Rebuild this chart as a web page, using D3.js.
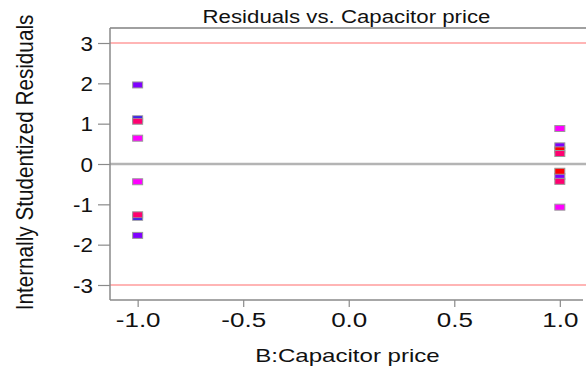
<!DOCTYPE html>
<html>
<head>
<meta charset="utf-8">
<script src="https://cdn.jsdelivr.net/npm/d3@7"></script>
<style>
  html, body { margin: 0; padding: 0; background: #fff; }
  svg { display: block; font-family: Arial, "Liberation Sans", sans-serif; }
</style>
</head>
<body>
<svg id="chart" width="587" height="372"></svg>
<script>
// Factor level (coded) for each run
const priceLevel = [-1, -1, -1, -1, -1, -1, -1, -1, 1, 1, 1, 1, 1, 1, 1, 1];
// Internally studentized residual for each run
const residuals = [1.96, 1.12, 1.06, 0.64, -0.44, -1.32, -1.26, -1.77,
                   0.88, 0.45, 0.35, 0.26, -0.31, -0.18, -0.43, -1.07];
// Response band of each run (used for point colour)
const responseBand = [1, 0, 3, 2, 2, 0, 3, 1, 2, 1, 4, 3, 1, 4, 3, 2];

const xTicks = [-1.0, -0.5, 0.0, 0.5, 1.0];
const yTicks = [3, 2, 1, 0, -1, -2, -3];
const limitLines = [3, -3];

const bandColour = d3.scaleOrdinal()
  .domain([0, 1, 2, 3, 4])
  .range(["#2200ff", "#8000ff", "#ff00ff", "#ff0070", "#ff0000"]);

const svg = d3.select("#chart");
const plotLeft = 110, plotRight = 586, plotTop = 28, plotBottom = 300;

const x = d3.scaleLinear().domain([-1.131, 1.124]).range([plotLeft, plotRight]);
const y = d3.scaleLinear().domain([-3.372, 3.372]).range([plotBottom, plotTop]);

// plain hyphen-minus for negative tick labels
const hyphen = f => d => f(d).replace("\u2212", "-");

// stretch a text element horizontally by a factor
function widen(sel, f) {
  sel.each(function () {
    const w = this.getComputedTextLength();
    d3.select(this).attr("textLength", w * f).attr("lengthAdjust", "spacingAndGlyphs");
  });
}

// reference lines
svg.selectAll("line.limit").data(limitLines).join("line")
  .attr("class", "limit")
  .attr("x1", plotLeft).attr("x2", plotRight)
  .attr("y1", d => y(d)).attr("y2", d => y(d))
  .attr("stroke", "#ff9c9c").attr("stroke-width", 1.5);

svg.append("line")
  .attr("x1", plotLeft).attr("x2", plotRight)
  .attr("y1", y(0)).attr("y2", y(0))
  .attr("stroke", "#b4b4b4").attr("stroke-width", 2.5);

// frame
svg.append("line").attr("x1", plotLeft).attr("x2", plotRight).attr("y1", plotTop).attr("y2", plotTop)
  .attr("stroke", "#a0a0a0").attr("stroke-width", 2);
svg.append("line").attr("x1", plotLeft).attr("x2", plotLeft).attr("y1", plotTop).attr("y2", plotBottom)
  .attr("stroke", "#8a8a8a").attr("stroke-width", 1.5);
svg.append("line").attr("x1", plotLeft).attr("x2", plotRight - 3).attr("y1", plotBottom).attr("y2", plotBottom)
  .attr("stroke", "#8a8a8a").attr("stroke-width", 1.5);

// axes
const xAxis = svg.append("g").attr("transform", `translate(0,${plotBottom})`)
  .call(d3.axisBottom(x).tickValues(xTicks).tickFormat(hyphen(d3.format(".1f"))).tickSize(7).tickPadding(6));
const yAxis = svg.append("g").attr("transform", `translate(${plotLeft},0)`)
  .call(d3.axisLeft(y).tickValues(yTicks).tickFormat(hyphen(d3.format("d"))).tickSize(12).tickPadding(5));

[xAxis, yAxis].forEach(g => {
  g.select(".domain").remove();
  g.selectAll(".tick line").attr("stroke", "#8a8a8a").attr("stroke-width", 1.2);
  g.selectAll(".tick text").attr("fill", "#111").attr("font-size", 20)
    .attr("font-family", "Arial, 'Liberation Sans', sans-serif");
});
xAxis.selectAll(".tick text").attr("dy", "0.71em").call(widen, 1.3);
yAxis.selectAll(".tick text").attr("dy", "0.36em").call(widen, 1.12);

// points
const pts = priceLevel.map((p, i) => ({ p, r: residuals[i], b: responseBand[i] }));
svg.selectAll("rect.pt").data(pts).join("rect")
  .attr("class", "pt")
  .attr("x", d => x(d.p) - 5).attr("y", d => y(d.r) - 3)
  .attr("width", 10).attr("height", 6)
  .attr("fill", d => bandColour(d.b))
  .attr("stroke", "#9a9a9a").attr("stroke-width", 1);

// titles
svg.append("text").attr("x", 346.5).attr("y", 23).attr("text-anchor", "middle")
  .attr("font-size", 17.5).attr("fill", "#111")
  .text("Residuals vs. Capacitor price").call(widen, 1.27);

svg.append("text").attr("x", 347.5).attr("y", 362).attr("text-anchor", "middle")
  .attr("font-size", 18.5).attr("fill", "#111")
  .text("B:Capacitor price").call(widen, 1.3);

svg.append("text")
  .attr("transform", "translate(33,162.5) rotate(-90) scale(0.9,1)")
  .attr("text-anchor", "middle")
  .attr("font-size", 23).attr("fill", "#111")
  .text("Internally Studentized Residuals");
</script>
</body>
</html>
